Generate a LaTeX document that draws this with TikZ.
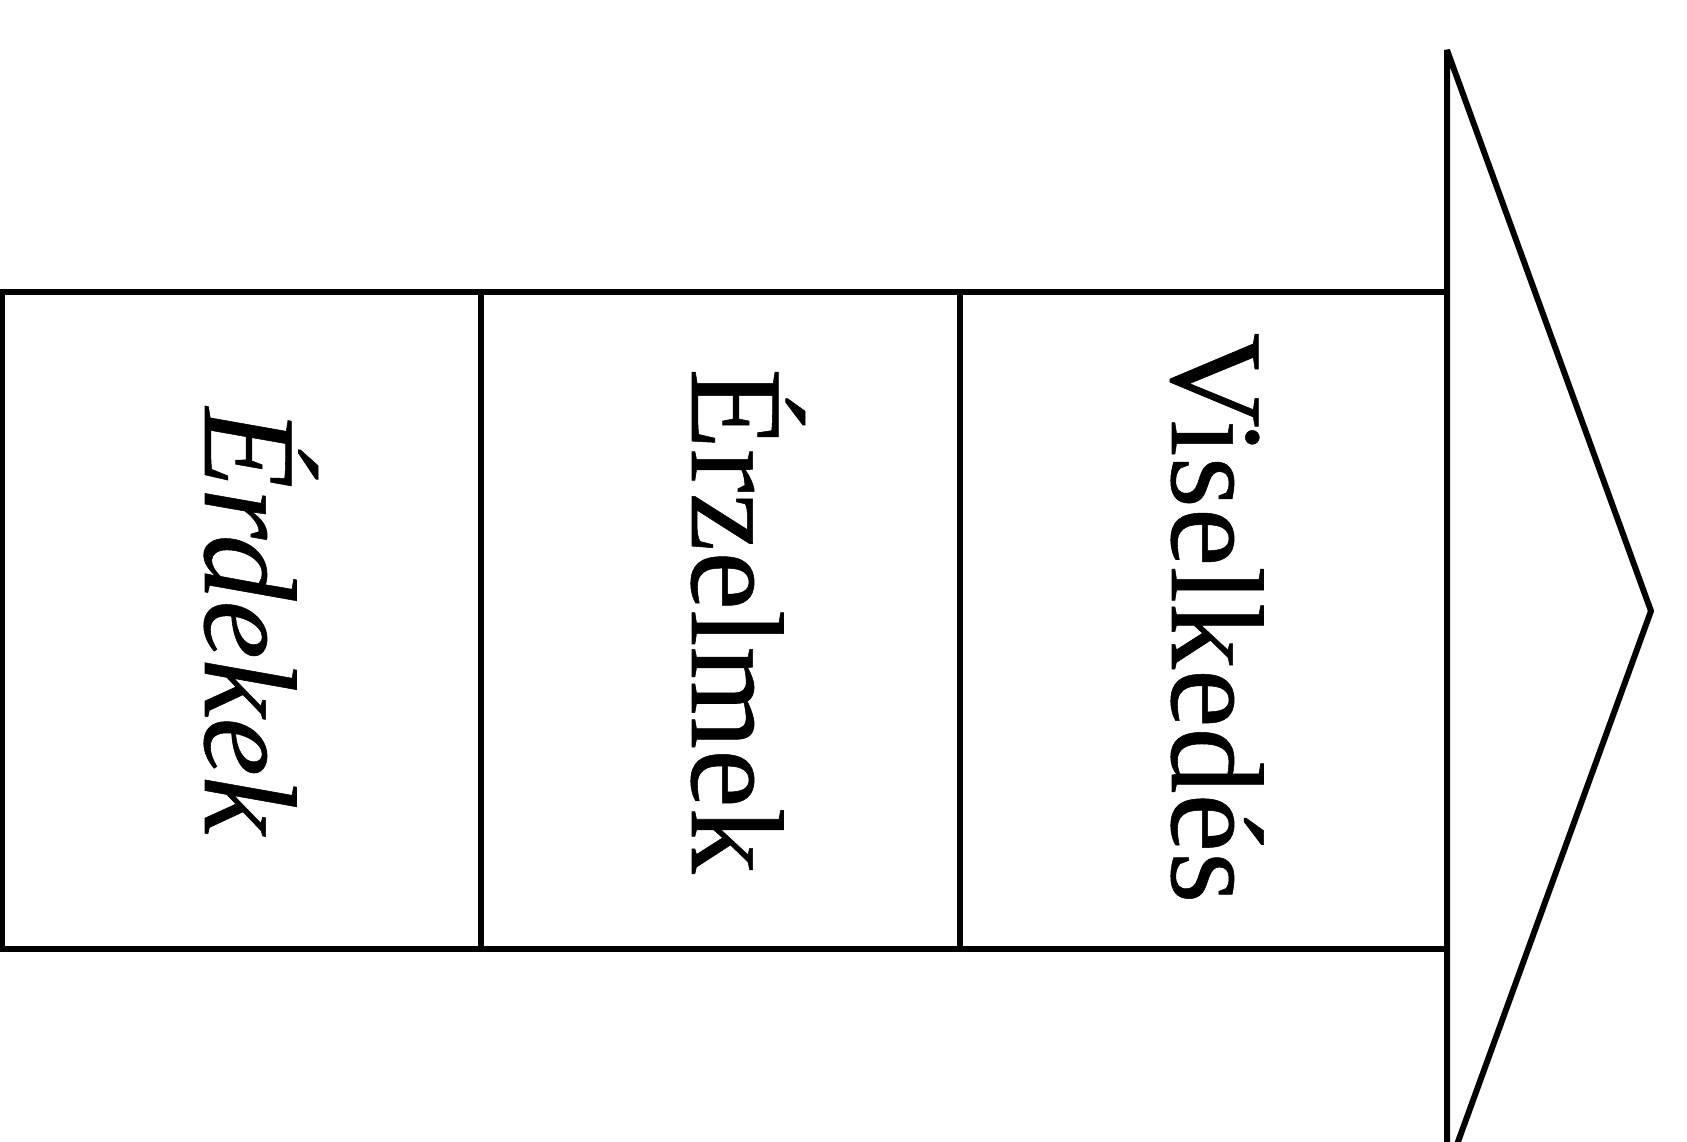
\documentclass[tikz,border=0pt]{standalone}
\usepackage{fontspec}
\setmainfont{Liberation Serif}
\newfontfamily\lblfont[FakeBold=0.4]{Liberation Serif}
\begin{document}
\begin{tikzpicture}[x=0.01cm,y=-0.01cm,
  lbl/.style={rotate=-90,anchor=base,inner sep=0pt,font=\lblfont\fontsize{37.5}{45}\selectfont},
  outline/.style={draw=black,line width=1.7pt,line join=miter}]
\useasboundingbox (0,0) rectangle (1687,1142);
\clip (0,0) rectangle (1687,1142);
% shaft corners and dividers
\coordinate (tl) at (2,292);
\coordinate (bl) at (2,949);
\coordinate (d1t) at (481,292);
\coordinate (d1b) at (481,949);
\coordinate (d2t) at (960,292);
\coordinate (d2b) at (960,949);
\coordinate (tr) at (1447,292);
\coordinate (br) at (1447,949);
% arrow head
\coordinate (ht) at (1447,50);
\coordinate (tip) at (1651,611);
\coordinate (hb) at (1447,1172);
\draw[outline] (tr) -- (tl) -- (bl) -- (br);
\draw[outline] (d1t) -- (d1b);
\draw[outline] (d2t) -- (d2b);
\draw[outline,line join=bevel] (ht) -- (tip) -- (hb) -- cycle;
% labels
\node[lbl] (t1) at (205,621) {\itshape Érdekek};
\node[lbl] (t2) at (692,621) {Érzelmek};
\node[lbl] (t3) at (1172,618) {Viselkedés};
\end{tikzpicture}
\end{document}
